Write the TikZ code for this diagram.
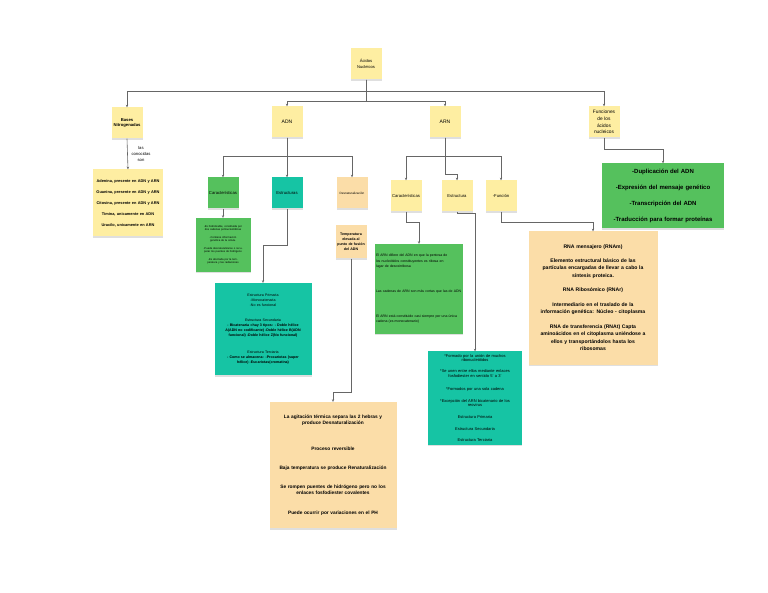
\documentclass[tikz,border=0pt]{standalone}
\usepackage{fontspec}
\setmainfont{Liberation Sans}
\usetikzlibrary{arrows.meta,shadows}
\definecolor{notey}{HTML}{FEEEA2}
\definecolor{notep}{HTML}{FBDDA8}
\definecolor{noteg}{HTML}{55C15D}
\definecolor{notet}{HTML}{16C4A4}
\definecolor{linec}{HTML}{666666}
\newcommand{\fsz}[2]{\fontsize{#1}{#2}\selectfont}
\begin{document}
\begin{tikzpicture}[x=1pt,y=-1pt,
      note/.style={inner sep=1pt,align=center,drop shadow={shadow xshift=0pt,shadow yshift=-1.5pt,opacity=.25}},
      sq/.style={note,text width=29pt,minimum height=31pt},
      conn/.style={draw=linec,line width=.6pt,-{Stealth[length=2.6pt,width=2.4pt]}}]
      \useasboundingbox (0,0) rectangle (768,593);
      \node[sq,fill=notey,font=\fsz{4.1}{5.7}] (acidos) at (366,64) {Ácidos\\Nucleicos};
      \node[sq,fill=notey,font=\bfseries\fsz{4.2}{5.3}] (bases) at (127,123) {Bases\\Nitrogenadas};
      \node[sq,fill=notey,font=\fsz{5}{6}] (adn) at (287,122) {ADN};
      \node[sq,fill=notey,font=\fsz{5}{6}] (arn) at (445,122) {ARN};
      \node[sq,fill=notey,font=\fsz{4.8}{6.8}] (funciones) at (604,122) {Funciones\\de los\\ácidos\\nucleicos};
      \node[font=\fsz{4.2}{5.8},align=center,inner sep=0] (conocidas) at (141,154) {las\\conocidas\\son};
      \node[note,fill=notey,text width=68pt,minimum height=67pt,font=\bfseries\fsz{3.9}{5}] (lista) at (128,203) {Adenina, presente en ADN y ARN\\[6pt]Guanina, presente en ADN y ARN\\[6pt]Citosina, presente en ADN y ARN\\[6pt]Timina, unicamente en ADN\\[6pt]Uracilo, unicamente en ARN};
      \node[sq,fill=noteg,font=\fsz{4.2}{5}] (caracadn) at (223,193) {Características};
      \node[sq,fill=notet,font=\fsz{4.2}{5}] (estradn) at (287,193) {Estructuras};
      \node[sq,fill=notep,font=\fsz{3.1}{4}] (desnat) at (352,193) {Desnaturalización};
      \node[note,fill=noteg,text width=53pt,minimum height=54pt,font=\fsz{2.7}{3.5}] (caracbox) at (223,245) {-Es hidrolizable, constituida por dos cadenas polinucleotídicas\\[4pt]-Contiene información genética de la célula.\\[4pt]-Puede desnaturalizarse o recuperar los puentes de hidrógeno\\[4pt]-Es afectada por la temperatura y las radiaciones};
      \node[sq,fill=notep,minimum height=33pt,font=\bfseries\fsz{3.6}{5}] (temp) at (351,242) {Temperatura\\elevada al\\punto de fusión\\del ADN};
      \node[note,fill=notet,text width=95pt,minimum height=92pt,font=\fsz{3.6}{5}] (estrbox) at (263,329) {Estructura Primaria\\-Monocatenaria\\-No es funcional\\[10pt]Estructura Secundaria\\\textbf{- Bicatenaria =hay 3 tipos: - Doble hélice}\\\textbf{A(ADN no codificante) -Doble hélice B(ADN}\\\textbf{funcional) -Doble hélice Z(No funcional)}\\[12pt]Estructura Terciaria\\\textbf{- Como se almacena: -Procariotas (super}\\\textbf{hélice) -Eucariotas(cromatina)}};
      \node[sq,fill=notey,font=\fsz{4.2}{5}] (caracarn) at (406,196) {Características};
      \node[sq,fill=notey,font=\fsz{4.2}{5}] (estrarn) at (457,196) {Estructura};
      \node[sq,fill=notey,font=\fsz{4.2}{5}] (funcion) at (501,196) {-Función};
      \node[note,fill=noteg,text width=86pt,minimum height=90pt,align=left,font=\fsz{3.5}{5.2}] (caracarnbox) at (419,289) {El ARN difiere del ADN en que la pentosa de\\los nucleótidos constituyentes es ribosa en\\lugar de desoxirribosa\\[20pt]Las cadenas de ARN son más cortas que las de ADN\\[20pt]El ARN está constituido casi siempre por una única\\cadena (es monocatenario)};
      \node[note,fill=notet,text width=92pt,minimum height=93pt,font=\fsz{4}{4.6}] (estrarnbox) at (475,398) {*Formado por la unión de muchos\\ribonucleótidos\\[6pt]*Se unen entre ellos mediante enlaces\\fosfodiester en sentido 5' a 3'\\[9pt]*Formados por una sola cadena\\[7pt]*Excepción del ARN bicatenario de los\\reovirus\\[7pt]Estructura Primaria\\[7pt]Estructura Secundaria\\[7pt]Estructura Terciaria};
      \node[note,fill=notep,text width=127pt,minimum height=133pt,font=\bfseries\fsz{5.1}{7.5}] (funcbox) at (593,298) {RNA mensajero (RNAm)\\[6pt]Elemento estructural básico de las\\partículas encargadas de llevar a cabo la\\síntesis proteica.\\[7pt]RNA Ribosómico (RNAr)\\[7pt]Intermediario en el traslado de la\\información genética: Núcleo - citoplasma\\[7pt]RNA de transferencia (RNAt) Capta\\aminoácidos en el citoplasma uniéndose a\\ellos y transportándolos hasta los\\ribosomas};
      \node[note,fill=noteg,text width=120pt,minimum height=65pt,font=\bfseries\fsz{6}{7}] (funcionesbox) at (663,196) {-Duplicación del ADN\\[9pt]-Expresión del mensaje genético\\[9pt]-Transcripción del ADN\\[9pt]-Traducción para formar proteínas};
      \node[note,fill=notep,text width=125pt,minimum height=126pt,font=\bfseries\fsz{4.8}{6}] (desnatbox) at (333,465) {La agitación térmica separa las 2 hebras y\\produce Desnaturalización\\[20pt]Proceso reversible\\[13pt]Baja temperatura se produce Renaturalización\\[13pt]Se rompen puentes de hidrógeno pero no los\\enlaces fosfodiester covalentes\\[14pt]Puede ocurrir por variaciones en el PH};
      \draw[conn] (acidos.south) -- ++(0,12) -| (bases.north);
      \draw[conn] (acidos.south) -- ++(0,12) -| (funciones.north);
      \draw[conn] (acidos.south) -- ++(0,22) -| (adn.north);
      \draw[conn] (acidos.south) -- ++(0,22) -| (arn.north);
      \draw[conn] (bases.south) -- (lista.north);
      \draw[conn] (adn.south) -- ++(0,19) -| (caracadn.north);
      \draw[conn] (adn.south) -- (estradn.north);
      \draw[conn] (adn.south) -- ++(0,19) -| (desnat.north);
      \draw[conn] (caracadn.south) -- (caracbox.north);
      \draw[conn] (estradn.south) -- ++(0,37) -| (estrbox.north);
      \draw[conn] (temp.south) -- ++(0,134) -| (desnatbox.north);
      \draw[conn] (arn.south) -- ++(0,19) -| (caracarn.north);
      \draw[conn] (arn.south) -- ++(0,37) -| (estrarn.north);
      \draw[conn] (arn.south) -- ++(0,19) -| (funcion.north);
      \draw[conn] (caracarn.south) -- ++(0,11) -| (caracarnbox.north);
      \draw[conn] (estrarn.south) -- ++(0,2) -| (estrarnbox.north);
      \draw[conn] (funcion.south) -- ++(0,11) -| (funcbox.north);
      \draw[conn] (funciones.south) -- ++(0,12) -| (funcionesbox.north);
    \end{tikzpicture}
\end{document}
